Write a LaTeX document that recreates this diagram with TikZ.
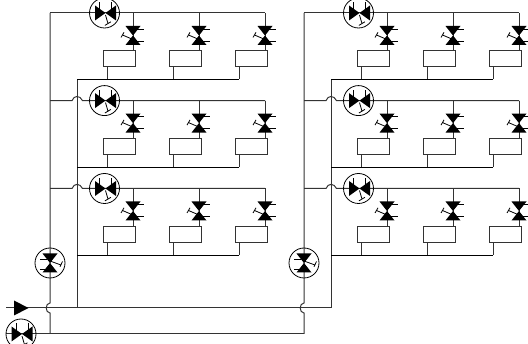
\documentclass[tikz,border=0pt]{standalone}
\usetikzlibrary{calc}
\definecolor{pipe}{HTML}{333333}
\tikzset{
  x=1pt,y=-1pt,
  pipeline/.style={draw=pipe,line width=1pt},
  thin pipe/.style={draw=black,line width=0.85pt},
  unitbox/.style={draw=pipe,line width=1pt,fill=white,minimum width=32.5pt,minimum height=16pt,inner sep=0pt,outer sep=0pt},
  ring/.style={draw=black,line width=0.8pt,circle,minimum size=30pt,inner sep=0pt,outer sep=0pt},
  pics/hvalve/.style={code={
    \fill[black] (-9.5,-7.5)--(1,0)--(-9.5,7.5)--cycle;
    \fill[black] (11.5,-7.5)--(1,0)--(11.5,7.5)--cycle;
    \draw[black,line width=0.7pt] (-5,-3.5)--(-5,-10.5) (7,-3.5)--(7,-10.5);
    \draw[black,line width=0.8pt] (1,2)--(3.6,11) (0.4,12.4)--(6.4,8.8);
  }},
  pics/vvalve/.style={code={
    \fill[black] (-7.5,-9.5)--(0,0)--(7.5,-9.5)--cycle;
    \fill[black] (-7.5,9.5)--(0,0)--(7.5,9.5)--cycle;
    \draw[black,line width=0.7pt] (3,-6.5)--(10.5,-6.5) (3,5.5)--(10.5,5.5);
    \draw[black,line width=0.8pt] (0,4)--(-10.5,-0.5) (-12,2)--(-9,-3.2);
  }},
  pics/vvalveR/.style={code={
    \fill[black] (-7.5,-9.5)--(0,0)--(7.5,-9.5)--cycle;
    \fill[black] (-7.5,9.5)--(0,0)--(7.5,9.5)--cycle;
    \draw[black,line width=0.7pt] (-3,-4)--(-10,-4) (-3,6.5)--(-10,6.5);
    \draw[black,line width=0.8pt] (0,-2)--(11,2) (12.5,-1.5)--(10,3.8);
  }},
}
\begin{document}
\begin{tikzpicture}
\useasboundingbox (0,0) rectangle (528,344);
\clip (0,0) rectangle (528,344);
\coordinate (inL) at (6,308);
\coordinate (inE) at (331,308);
\coordinate (outL) at (6,334);
\coordinate (outE) at (304,334);
\path[pipeline] (inL)--(inE);
\path[pipeline] (outL)--(outE);
\fill[black] (14,300.5)--(28.5,308)--(14,315.5)--cycle;
\node[ring] (vin) at (21,334) {};
\pic at (vin.center) {hvalve};
\foreach \ox/\blk in {0/a,254/b}{
  \begin{scope}[xshift=\ox pt]
    \coordinate (\blk up) at (50,13);
    \coordinate (\blk dn) at (50,334);
    \coordinate (\blk ret) at (77,79.5);
    \coordinate (\blk rb) at (77,308);
    \path[pipeline] (\blk up)--(50,303)
       .. controls (45,303) and (45,313) .. (50,313)--(\blk dn);
    \path[pipeline] (\blk ret)--(\blk rb);
    \node[ring] (\blk riser) at (50,263) {};
    \pic at (\blk riser.center) {vvalveR};
    \foreach \r/\dy in {1/0,2/87.6,3/175.5}{
      \begin{scope}[yshift=-\dy pt]
        \coordinate (\blk r\r s) at (50,13);
        \coordinate (\blk r\r e) at (265,13);
        \coordinate (\blk r\r rs) at (77,79.5);
        \coordinate (\blk r\r re) at (239,79.5);
        \ifnum\r=1
          \path[pipeline] (\blk r\r s)--(\blk r\r e);
        \else
          \path[pipeline] (\blk r\r s)--(72,13)
             .. controls (74,7.5) and (80,7.5) .. (82.5,13)--(\blk r\r e);
        \fi
        \path[thin pipe] (\blk r\r rs)--(\blk r\r re);
        \node[ring] (\blk r\r main) at (104.5,13) {};
        \pic at (\blk r\r main.center) {hvalve};
        \foreach \c/\sx in {1/107,2/173,3/239}{
          \pgfmathsetmacro{\vx}{\sx+26}
          \node[unitbox] (\blk r\r box\c) at (\sx+12.5,59) {};
          \coordinate (\blk r\r top\c) at (\vx,13);
          \coordinate (\blk r\r st\c) at (\sx,79.5);
          \path[pipeline] (\blk r\r top\c)--(\blk r\r top\c |- \blk r\r box\c.north);
          \path[pipeline] (\blk r\r st\c |- \blk r\r box\c.south)--(\blk r\r st\c);
          \pic at (\vx,35.5) {vvalve};
        }
      \end{scope}
    }
  \end{scope}
}
\end{tikzpicture}
\end{document}
